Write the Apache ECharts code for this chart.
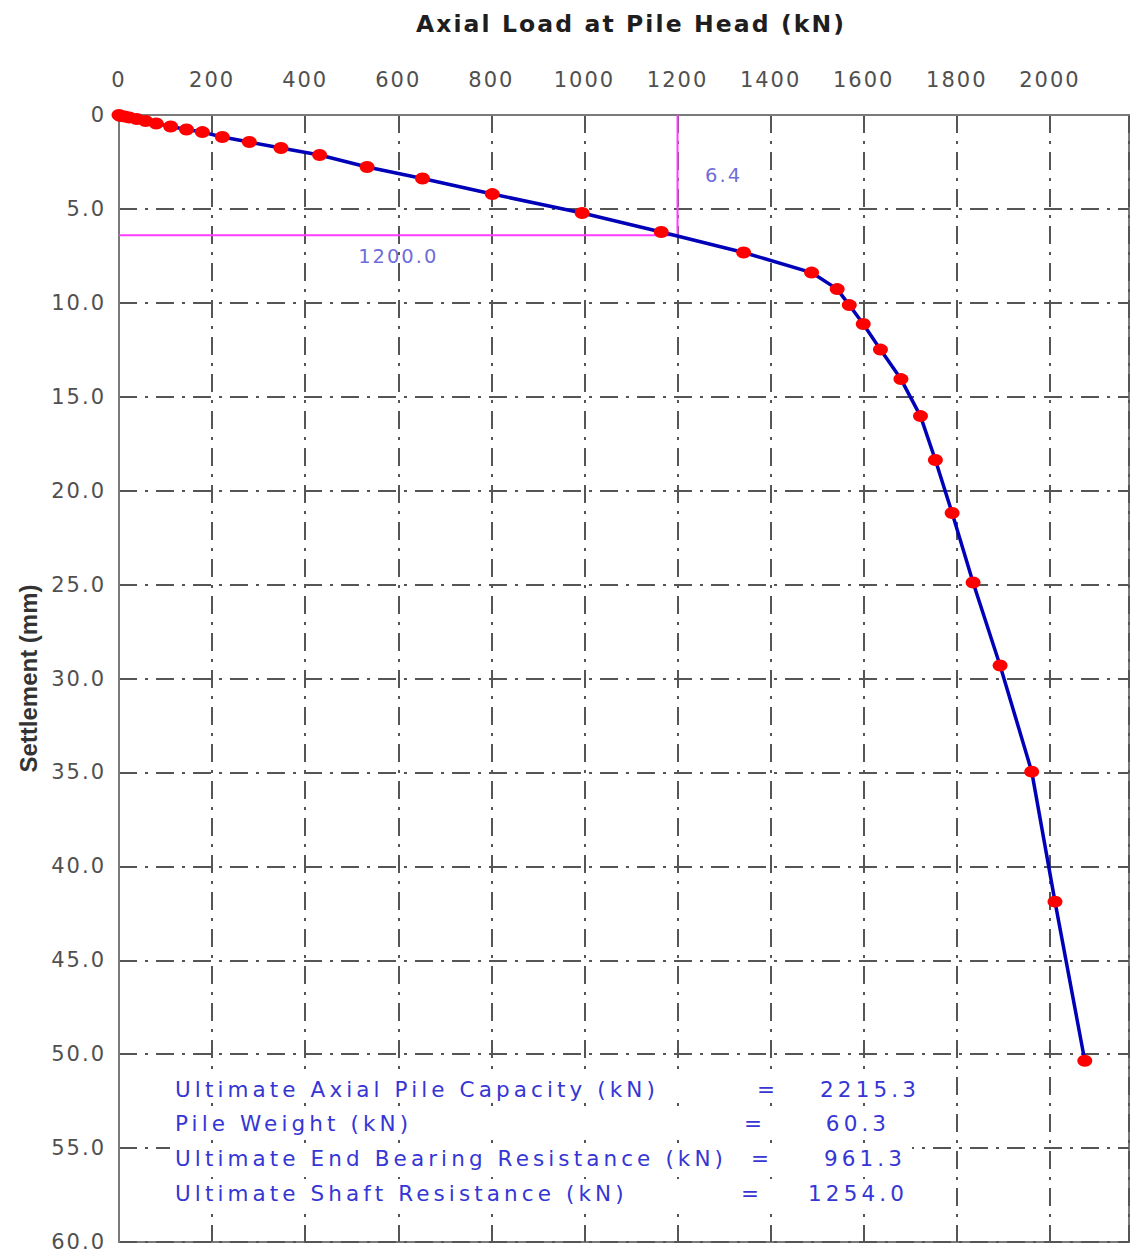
<!DOCTYPE html>
<html>
<head>
<meta charset="utf-8">
<script src="https://cdn.jsdelivr.net/npm/echarts@6/dist/echarts.min.js"></script>
<style>
html,body{margin:0;padding:0;background:#fff;}
#c{width:1131px;height:1254px;}
#c svg text[style*="21px"]{letter-spacing:2px;}
#c svg text[style*="21.5px"]{letter-spacing:4.1px;}
#c svg text[style*="23.5px"]{letter-spacing:2.1px;}
#c svg text[style*="19.5px"]{letter-spacing:2px;}
</style>
</head>
<body>
<div id="c"></div>
<script>
// ---- data ----
const loadKN = [0, 3, 12, 22, 38, 57, 80, 111, 145, 179, 222, 280, 348, 431, 533, 652, 802, 995, 1165, 1342, 1488, 1543, 1569, 1599, 1636, 1680, 1722, 1754, 1790, 1835, 1893, 1961, 2011, 2075];
const settlementMM = [0, 0.05, 0.08, 0.13, 0.21, 0.32, 0.45, 0.61, 0.77, 0.91, 1.17, 1.44, 1.76, 2.13, 2.77, 3.38, 4.21, 5.22, 6.23, 7.32, 8.39, 9.27, 10.12, 11.13, 12.49, 14.06, 16.03, 18.37, 21.19, 24.89, 29.31, 34.96, 41.88, 50.35];
const xTickLabels = [0, 200, 400, 600, 800, 1000, 1200, 1400, 1600, 1800, 2000];
const yTickLabels = [0, 5, 10, 15, 20, 25, 30, 35, 40, 45, 50, 55, 60];
const refLoad = 1200.0;
const refSettle = 6.4;
const summaryLabels = ['Ultimate Axial Pile Capacity (kN)', 'Pile Weight (kN)', 'Ultimate End Bearing Resistance (kN)', 'Ultimate Shaft Resistance (kN)'];
const summaryValues = ['2215.3', '60.3', '961.3', '1254.0'];

// ---- chart ----
const chart = echarts.init(document.getElementById('c'), null, {renderer: 'svg'});
const FONT = '"DejaVu Sans", Verdana, sans-serif';
const NAME_FONT = '"Liberation Sans", Arial, sans-serif';
const TXT_BLUE = '#3636d4';

const rowY = [1089, 1123, 1158, 1193];
const eqX = [768, 755, 762, 752];
const valX = [870, 858, 865, 858];
const graphics = [];
summaryLabels.forEach((lab, i) => {
  graphics.push({type: 'rect', z: 10, shape: {x: 170, y: rowY[i] - 14, width: 742, height: 28}, style: {fill: '#ffffff'}});
  graphics.push({type: 'text', z: 11, style: {text: lab, x: 175, y: rowY[i], fill: TXT_BLUE, font: '21.5px ' + FONT, textAlign: 'left', textVerticalAlign: 'middle'}});
  graphics.push({type: 'text', z: 11, style: {text: '=', x: eqX[i], y: rowY[i], fill: TXT_BLUE, font: '21.5px ' + FONT, textAlign: 'center', textVerticalAlign: 'middle'}});
  graphics.push({type: 'text', z: 11, style: {text: summaryValues[i], x: valX[i], y: rowY[i], fill: TXT_BLUE, font: '21.5px ' + FONT, textAlign: 'center', textVerticalAlign: 'middle'}});
});

const option = {
  animation: false,
  backgroundColor: '#ffffff',
  title: {
    text: 'Axial Load at Pile Head (kN)',
    left: 626, top: 7, textAlign: 'center',
    textStyle: {fontFamily: FONT, fontSize: 23.5, fontWeight: 'bold', color: '#1e1e1e'}
  },
  grid: {left: 119, top: 115, right: 2, bottom: 12, show: true, borderColor: '#7a7a7a', borderWidth: 2, backgroundColor: 'transparent'},
  xAxis: {
    type: 'value', position: 'top', min: 0, max: 2170, interval: 200,
    axisLine: {show: true, lineStyle: {color: '#7a7a7a', width: 2}},
    axisTick: {show: false},
    axisLabel: {
      margin: 25, color: '#505050', fontFamily: FONT, fontSize: 21, showMaxLabel: false,
      formatter: v => xTickLabels.indexOf(v) >= 0 ? String(v) : ''
    },
    splitLine: {show: true, lineStyle: {color: '#555', width: 2, type: [18, 8, 3, 8]}}
  },
  yAxis: {
    type: 'value', inverse: true, min: 0, max: 60, interval: 5,
    name: 'Settlement (mm)', nameLocation: 'middle', nameGap: 79,
    nameTextStyle: {fontFamily: NAME_FONT, fontSize: 24, fontWeight: 'bold', color: '#333'},
    axisLine: {show: true, lineStyle: {color: '#7a7a7a', width: 2}},
    axisTick: {show: false},
    axisLabel: {
      margin: 13, color: '#505050', fontFamily: FONT, fontSize: 21,
      formatter: v => yTickLabels.indexOf(v) < 0 ? '' : (v === 0 ? '0' : v.toFixed(1))
    },
    splitLine: {show: true, lineStyle: {color: '#555', width: 2, type: [18, 8, 3, 8]}}
  },
  series: [
    {
      name: 'ref', type: 'line', z: 1, silent: true, symbol: 'none',
      data: [[0, refSettle], [refLoad, refSettle], [refLoad, 0]],
      lineStyle: {color: '#ff3cff', width: 2}
    },
    {
      name: 'curve', type: 'line', z: 3,
      data: loadKN.map((x, i) => [x, settlementMM[i]]),
      symbol: 'circle', symbolSize: [15, 12],
      itemStyle: {color: '#ff0000', borderWidth: 0},
      lineStyle: {color: '#0000b8', width: 3.5}
    },
    {
      name: 'notes', type: 'scatter', z: 4, silent: true, symbolSize: 1,
      itemStyle: {color: 'rgba(0,0,0,0)'},
      data: [
        {value: [refLoad / 2, refSettle], label: {show: true, position: 'bottom', distance: 11, formatter: refLoad.toFixed(1)}},
        {value: [refLoad, refSettle / 2], label: {show: true, position: 'right', distance: 27, formatter: refSettle.toFixed(1)}}
      ],
      label: {color: '#4545d0', fontFamily: FONT, fontSize: 19.5}
    }
  ],
  graphic: graphics
};
chart.setOption(option);
</script>
</body>
</html>
